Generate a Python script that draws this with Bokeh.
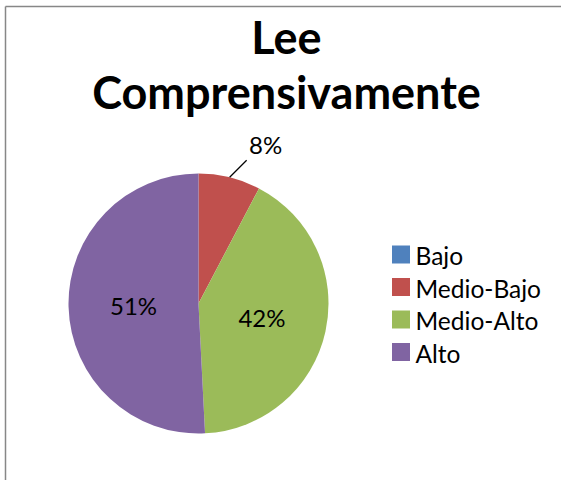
import math
from bokeh.plotting import figure
from bokeh.models import Range1d
from bokeh.core.properties import value
from bokeh.embed import file_html
from bokeh.resources import INLINE

# ---- data ----
categories = ["Bajo", "Medio-Bajo", "Medio-Alto", "Alto"]
values = [0, 7.7, 41.5, 50.8]
colors = ["#4F81BD", "#C0504D", "#9BBB59", "#8064A2"]
title_lines = ["Lee", "Comprensivamente"]

FONT = "Lato"
W, H = 561, 480

p = figure(width=W + 8, height=H + 8, x_range=Range1d(-8, W), y_range=Range1d(0, H + 8),
           output_backend="svg", toolbar_location=None, min_border=0,
           margin=(-8, -8, -8, -8))
p.axis.visible = False
p.grid.visible = False
p.outline_line_color = None
p.background_fill_color = "white"
p.border_fill_color = "white"


def Y(y):
    return H - y


# chart border (left and top edges visible, as in the reference)
p.segment(x0=[5, 5], y0=[Y(H + 5), Y(6)], x1=[5, W + 5], y1=[Y(6), Y(6)],
          line_color="#878787", line_width=1.5)

# ---- pie ----
cx, cy, r = 198, Y(303), 130
total = float(sum(values))
starts, ends, mids = [], [], []
cum = 0.0
for v in values:
    a0 = math.pi / 2 - 2 * math.pi * cum / total
    cum += v
    a1 = math.pi / 2 - 2 * math.pi * cum / total
    starts.append(a0)
    ends.append(a1)
    mids.append((a0 + a1) / 2)

idx = [i for i, v in enumerate(values) if v > 0]
p.wedge(x=cx, y=cy, radius=r,
        start_angle=[starts[i] for i in idx], end_angle=[ends[i] for i in idx],
        direction="clock", fill_color=[colors[i] for i in idx], line_color=None)

# data labels
for i in idx:
    frac = values[i] / total
    txt = f"{round(frac * 100)}%"
    a = mids[i]
    if frac < 0.1:
        x0, y0 = cx + r * math.cos(a), cy + r * math.sin(a)
        x1, y1 = x0 + 17, y0 + 17
        p.line(x=[x0, x1], y=[y0, y1], line_color="black", line_width=1.2)
        p.text(x=[x1 + 19], y=[y1 + 16], text=[txt], text_font=value(FONT),
               text_font_size="24px", text_align="center", text_baseline="middle",
               text_color="black")
    else:
        lx, ly = cx + 0.5 * r * math.cos(a), cy + 0.5 * r * math.sin(a)
        p.text(x=[lx], y=[ly], text=[txt], text_font=value(FONT),
               text_font_size="24px", text_align="center", text_baseline="middle",
               text_color="black")

# ---- title ----
for k, line in enumerate(title_lines):
    p.text(x=[286], y=[Y(36 + 55 * k)], text=[line], text_font=value(FONT),
           text_font_size="45px", text_font_style="bold", text_align="center",
           text_baseline="middle", text_color="black")

# ---- legend ----
for i, c in enumerate(categories):
    row = 254 + 32.5 * i
    p.rect(x=[400.5], y=[Y(row)], width=18, height=18,
           fill_color=colors[i], line_color=None)
    p.text(x=[415], y=[Y(row + 1)], text=[c], text_font=value(FONT),
           text_font_size="24.5px", text_align="left", text_baseline="middle",
           text_color="black")

open("out.html", "w").write(file_html(p, INLINE))
